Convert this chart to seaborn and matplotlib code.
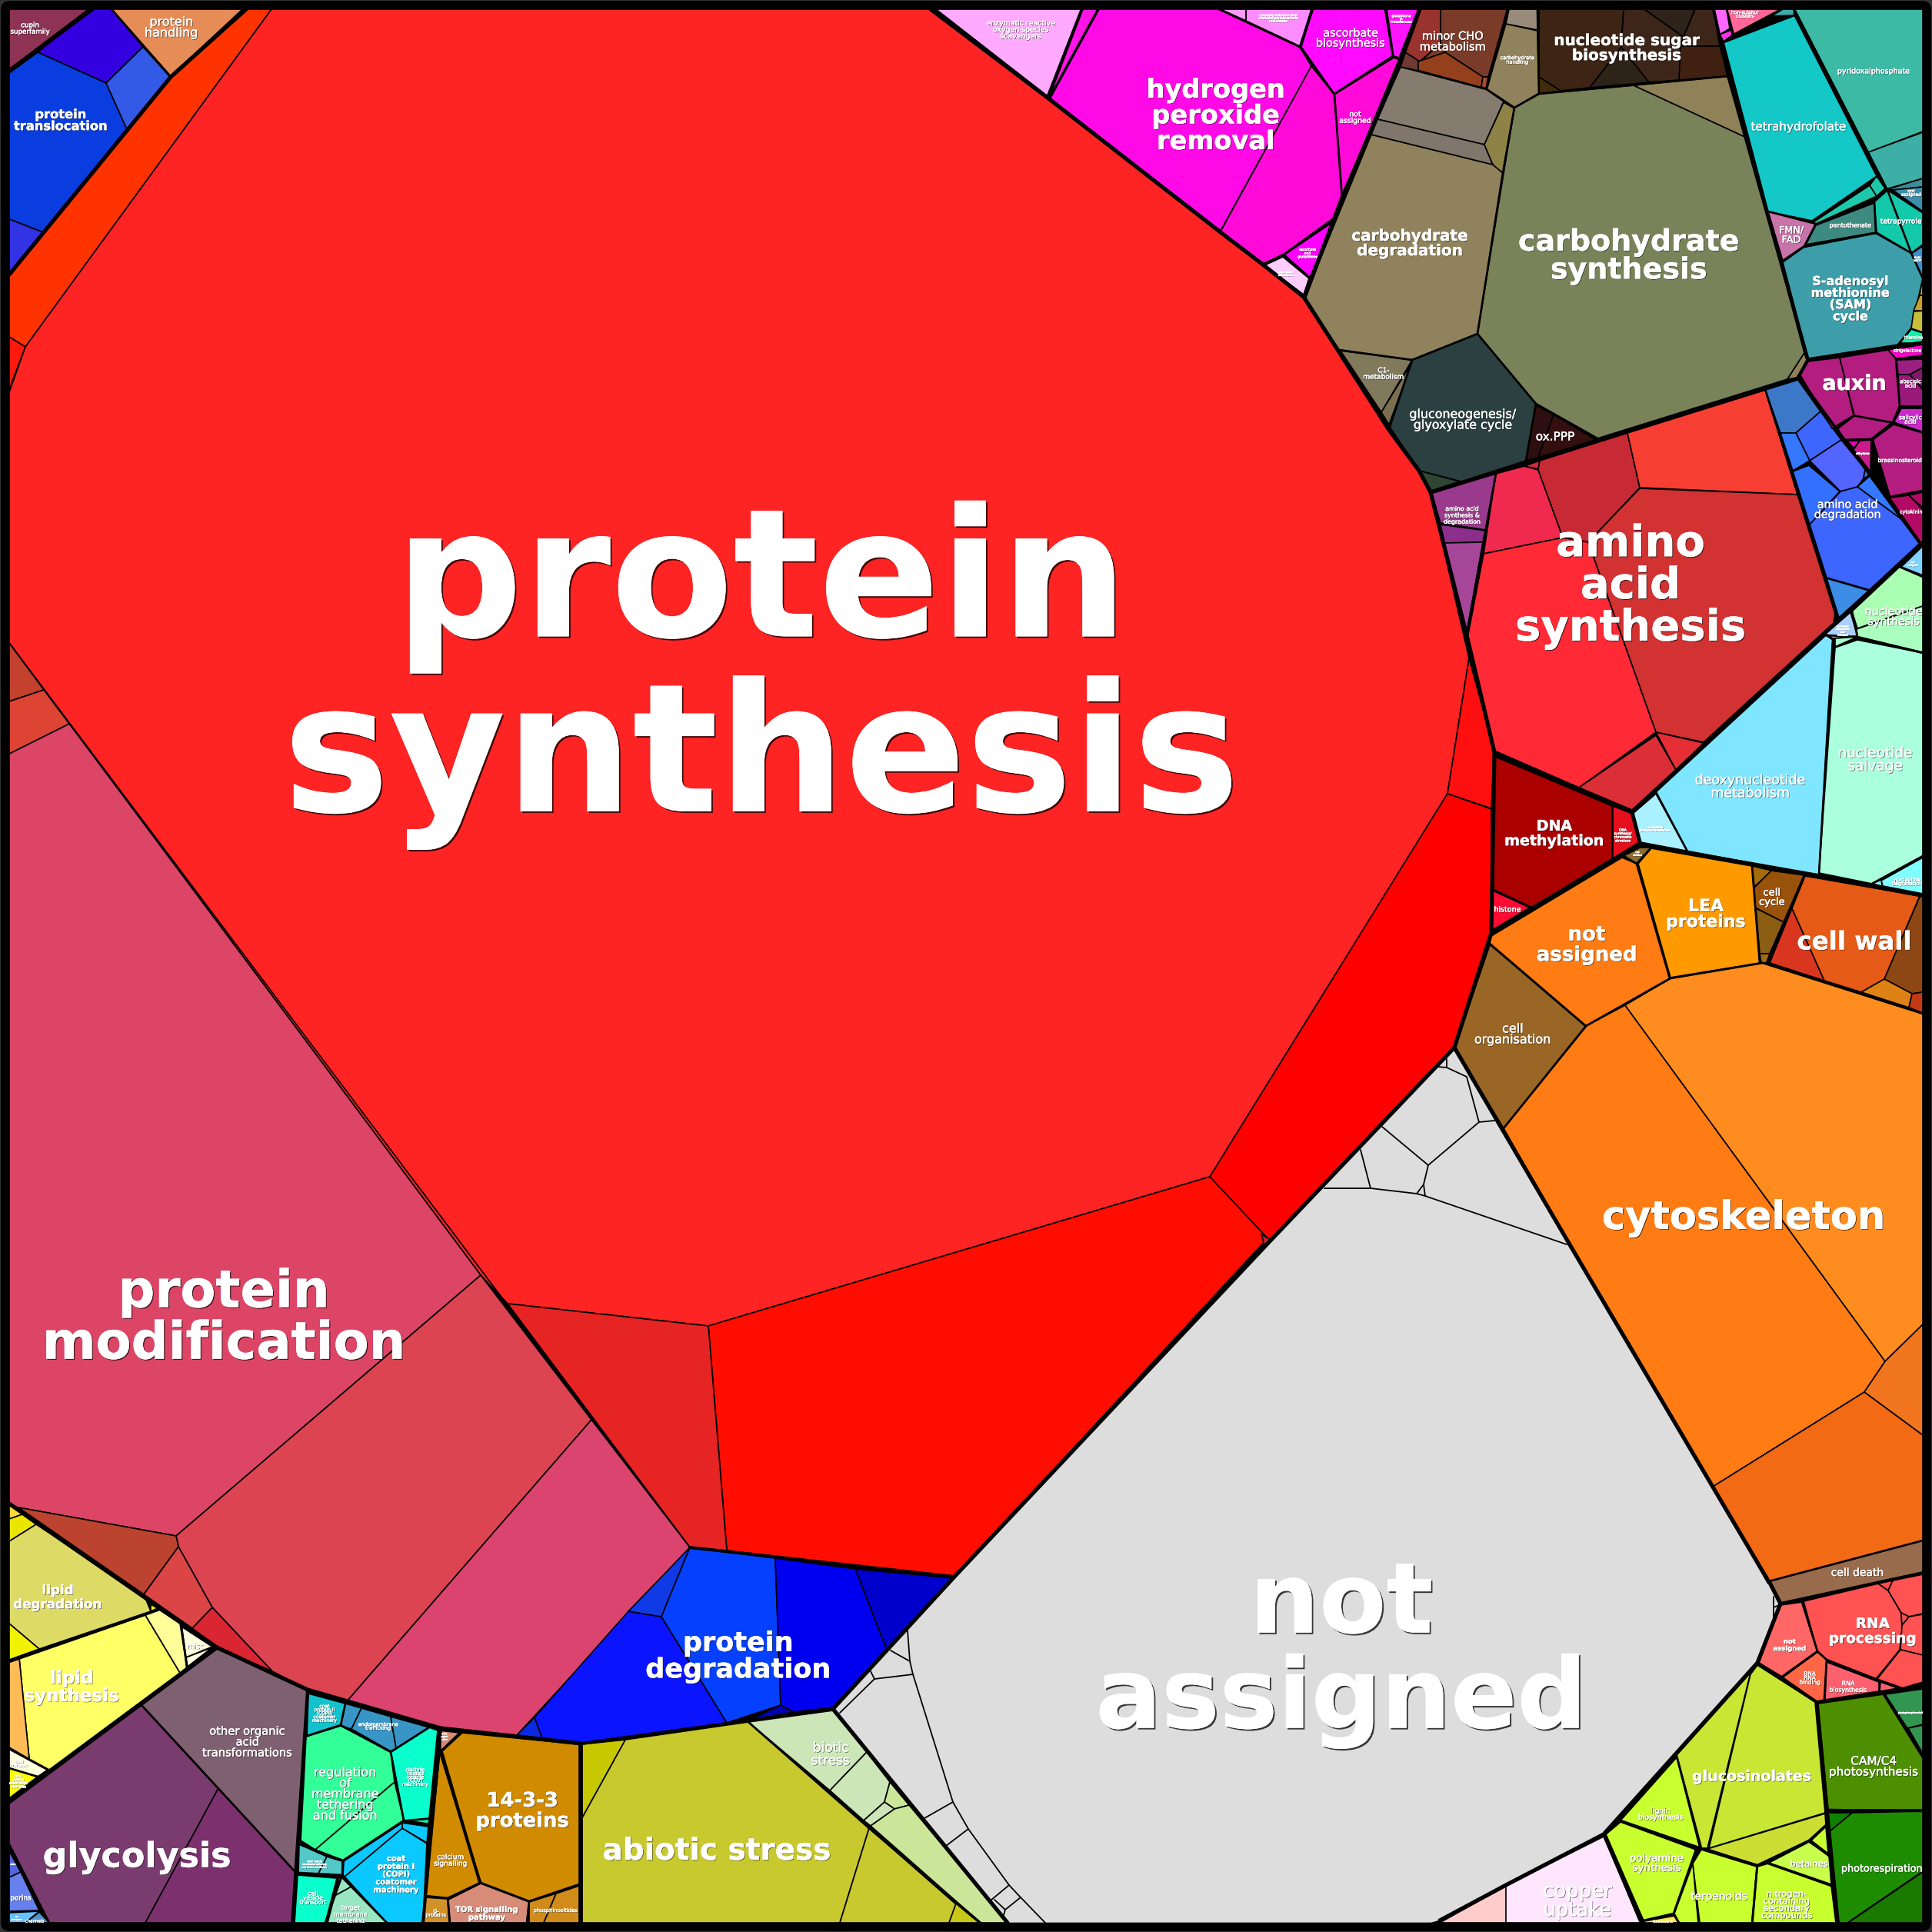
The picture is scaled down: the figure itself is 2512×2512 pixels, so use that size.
import matplotlib
matplotlib.use("Agg")
import matplotlib.pyplot as plt
import matplotlib.patheffects as pe
from matplotlib.collections import PolyCollection, LineCollection
from matplotlib.patches import Rectangle, FancyBboxPatch
import seaborn as sns

# Voronoi treemap of plant protein functions. Cell outlines, in pixels.

protein_polys = [
    [(12,12),(115,12),(12,90)],
    [(118,12),(145,12),(186,61),(138,108),(49,68)],
    [(12,95),(49,68),(138,108),(165,168),(56,302),(12,285)],
    [(186,61),(221,100),(165,168),(138,108)],
    [(12,285),(56,302),(12,357)],
    [(145,12),(316,12),(222,99)],
    [(320,12),(353,12),(33,451),(12,438),(12,358),(222,100)],
    [(12,438),(33,451),(15,498),(12,512)],
    [(353,12),(1210,12),(1362,127),(1587,302),(1642,344),(1695,386),(1806,559),(1845,612),(1860,640),(1910,856),(1882,1032),(1573,1530),(921,1724),(660,1695),(625,1658),(12,836),(12,510),(33,451)],
    [(1910,856),(1943,976),(1939,1051),(1882,1032)],
    [(1882,1032),(1939,1052),(1939,1213),(1891,1362),(1650,1615),(1573,1530)],
    [(921,1724),(1573,1530),(1648,1610),(1241,2050),(945,2016)],
    [(660,1695),(921,1724),(945,2016),(897,2012)],
    [(1640,1605),(1652,1612),(1645,1622)],
    [(12,980),(90,941),(625,1658),(229,1997),(12,1958)],
    [(12,836),(57,897),(12,912)],
    [(12,912),(57,897),(90,941),(12,980)],
    [(625,1658),(769,1846),(452,2211),(400,2197),(354,2173),(276,2090),(232,2011),(229,1997)],
    [(769,1846),(897,2012),(672,2256),(573,2247),(452,2211)],
    [(24,1960),(229,1997),(232,2011),(187,2073)],
    [(232,2011),(276,2090),(250,2117),(187,2073)],
    [(276,2090),(354,2173),(282,2142),(250,2117)],
    [(672,2256),(695,2233),(705,2260)],
    [(695,2233),(817,2095),(860,2102),(945,2240),(756,2267),(705,2260)],
    [(897,2012),(817,2095),(860,2102)],
    [(897,2012),(1008,2026),(1015,2217),(945,2240),(860,2102)],
    [(1008,2026),(1112,2040),(1153,2145),(1083,2220),(1032,2226),(1015,2217)],
    [(1112,2040),(1241,2052),(1153,2145)],
    [(1015,2217),(1032,2226),(975,2236)],
]
protein_colors = ["#8e3353","#3300e0","#0a3de0","#335ae6","#3333e6","#e68c57","#ff3300","#ff1a0d",
                  "#ff2424","#ff1010","#ff0000","#ff0d00","#e62424","#cc2233","#dc4566","#c4412e",
                  "#dd4433","#dc4452","#dc4470","#bb432f","#db4545","#d92632","#0a2ae6","#0a14ff",
                  "#0f3ae6","#0540ff","#0000f0","#0000cc","#0000b3"]

lipid_polys = [
    [(12,1957),(29,1969),(12,1975)],
    [(12,1975),(29,1969),(47,1982),(12,2004)],
    [(12,2004),(47,1982),(187,2073),(196,2095),(51,2144),(12,2111)],
    [(12,2111),(51,2144),(12,2158)],
    [(196,2086),(205,2091),(196,2095)],
    [(25,2156),(189,2100),(234,2175),(64,2301),(38,2287)],
    [(189,2100),(207,2093),(234,2111),(243,2168),(234,2175)],
    [(236,2115),(276,2141),(242,2155)],
    [(242,2155),(276,2142),(244,2167)],
    [(12,2161),(25,2156),(38,2287),(12,2272)],
    [(12,2274),(62,2301),(49,2310),(12,2299)],
    [(12,2299),(49,2310),(12,2338)],
    [(12,2343),(184,2217),(284,2325),(189,2500),(64,2500),(12,2398)],
    [(284,2325),(384,2434),(380,2500),(189,2500)],
    [(184,2217),(282,2144),(354,2175),(400,2197),(384,2434)],
    [(12,2407),(27,2434),(12,2441)],
    [(12,2441),(27,2434),(51,2484),(12,2485)],
    [(12,2487),(51,2485),(33,2500),(12,2500)],
    [(33,2500),(51,2486),(64,2500)],
]
lipid_colors = ["#ffd93a","#ebe600","#deda66","#f2f200","#f2f200","#ffff66","#ffff99","#ffffdd","#ffffdd",
                "#ffbb55","#ffffdd","#ffff00","#7a3b6e","#7c316e","#7f6070","#5566dd","#6680ee","#66c2ff","#4f94cc"]

membrane_polys = [
    [(401,2202),(449,2215),(443,2243),(399,2257)],
    [(449,2215),(470,2221),(457,2248),(443,2244)],
    [(470,2221),(508,2232),(515,2273),(508,2277),(457,2248)],
    [(508,2232),(558,2246),(515,2273)],
    [(558,2246),(569,2250),(558,2364),(525,2367),(508,2278)],
    [(525,2368),(558,2365),(557,2373)],
    [(443,2244),(508,2278),(513,2317),(410,2405),(391,2393),(398,2258)],
    [(513,2317),(525,2367),(446,2419),(410,2405)],
    [(523,2377),(555,2397),(550,2500),(503,2500),(448,2440)],
    [(523,2370),(557,2375),(555,2396),(523,2377)],
    [(447,2420),(446,2438),(448,2440),(523,2377),(523,2370)],
    [(389,2398),(425,2414),(413,2438),(388,2435)],
    [(425,2414),(445,2420),(445,2439),(413,2438)],
    [(387,2438),(438,2442),(423,2500),(383,2500)],
    [(444,2440),(457,2453),(435,2465),(441,2442)],
    [(435,2465),(457,2453),(503,2500),(426,2500)],
    [(572,2250),(598,2253),(573,2277)],
    [(572,2278),(623,2448),(582,2468),(553,2465)],
    [(601,2253),(753,2268),(753,2450),(688,2472),(625,2448),(575,2277)],
    [(553,2467),(582,2469),(584,2500),(551,2500)],
    [(583,2470),(625,2449),(688,2473),(685,2500),(585,2500)],
    [(688,2473),(723,2462),(707,2500),(688,2500)],
    [(723,2462),(753,2452),(753,2500),(707,2500)],
]
membrane_colors = ["#14c2cc","#3796c6","#3796c6","#3796c6","#0bffcc","#14e6aa","#33ff99","#33ff99",
                   "#0bc8ff","#0bc8ff","#0bc8ff","#52c8c8","#52c8c8","#0bffcc","#99e6c2","#99e6c2",
                   "#d68c73","#d18b00","#d18b00","#d19229","#d68c78","#d18b1a","#d18b1a"]

stress_polys = [
    [(973,2239),(1083,2224),(1127,2278),(1079,2328)],
    [(1127,2278),(1157,2317),(1150,2343),(1123,2367),(1079,2328)],
    [(1157,2317),(1182,2347),(1163,2352),(1150,2343)],
    [(1150,2343),(1163,2352),(1132,2374),(1123,2367)],
    [(1132,2374),(1163,2352),(1182,2347),(1310,2500),(1275,2500)],
    [(813,2262),(973,2239),(1130,2377),(1092,2500),(756,2500),(756,2365)],
    [(1130,2377),(1243,2476),(1234,2500),(1092,2500)],
    [(1243,2475),(1273,2500),(1234,2500)],
    [(756,2268),(813,2262),(756,2365)],
]
stress_colors = ["#cce6b8","#cce6b8","#cce699","#cce6b8","#cce699","#c8c82f","#c8c82f","#c8c81a","#c8c800"]

unassigned_polys = [
    [(1241,2050),(1650,1615),(1891,1362),(2042,1620),(2300,2056),(2315,2085),(2285,2162),(2085,2385),(1958,2451),(1872,2497),(1860,2500),(1310,2500),(1083,2222)],
]
unassigned_colors = ["#dddddd"]
unassigned_edges = [
    [(1722,1545),(1782,1545),(1842,1552),(1853,1555),(2037,1618)],
    [(1180,2120),(1183,2160),(1187,2177),(1239,2343),(1259,2378),(1312,2451),(1327,2467),(1359,2500)],
    [(1158,2146),(1183,2160)],
    [(1132,2173),(1137,2183),(1187,2177)],
    [(1137,2183),(1092,2227)],
    [(1239,2343),(1202,2364)],
    [(1259,2378),(1230,2400)],
    [(1312,2451),(1288,2471)],
    [(1327,2467),(1307,2483),(1293,2470)],
    [(1307,2483),(1304,2493)],
    [(1797,1465),(1857,1515),(1923,1459),(1943,1457)],
    [(1923,1459),(1907,1400),(1881,1388),(1870,1387)],
    [(1881,1388),(1881,1377)],
    [(1769,1495),(1782,1545)],
    [(1857,1515),(1851,1540),(1853,1555)],
    [(1851,1540),(1842,1552)],
    [(2306,2076),(2306,2103)],
    [(2306,2090),(2313,2087)],
    [(12,836),(897,2012)],
]

orange_polys = [
    [(2062,1334),(2113,1307),(2451,1770),(2424,1810),(2227,1933),(2042,1620),(1955,1467)],
    [(2113,1307),(2172,1272),(2292,1252),(2500,1318),(2500,1722),(2451,1770)],
    [(2451,1770),(2500,1722),(2500,1866),(2424,1810)],
    [(2227,1933),(2424,1810),(2500,1866),(2500,2003),(2299,2059)],
    [(2300,2056),(2500,2003),(2500,2045),(2315,2085)],
    [(2109,1115),(2128,1123),(2171,1272),(2062,1334),(1937,1227),(1939,1217)],
    [(1937,1228),(2062,1335),(1955,1467),(1891,1362)],
    [(2147,1103),(2278,1126),(2288,1252),(2172,1271),(2130,1123)],
    [(2111,1113),(2132,1102),(2147,1102),(2128,1123)],
    [(2278,1126),(2304,1132),(2281,1153)],
    [(2303,1132),(2346,1138),(2319,1199),(2282,1180),(2281,1154)],
    [(2283,1181),(2319,1199),(2301,1240),(2288,1240)],
    [(2288,1240),(2301,1240),(2297,1252),(2290,1252)],
    [(2330,1181),(2372,1275),(2301,1252)],
    [(2347,1139),(2496,1165),(2450,1273),(2420,1290),(2372,1275),(2330,1181)],
    [(2496,1166),(2500,1166),(2500,1290),(2486,1292),(2450,1273)],
    [(2450,1273),(2486,1292),(2482,1310),(2420,1290)],
    [(2486,1292),(2500,1290),(2500,1317),(2482,1310)],
    [(1942,983),(2096,1048),(2096,1117),(1991,1180),(1942,1157)],
    [(2097,1048),(2122,1058),(2132,1097),(2097,1117)],
    [(1941,1158),(1989,1180),(1939,1210)],
]
orange_colors = ["#ff7b14","#ff8c1f","#f2761f","#f26a14","#996b4d","#ff7b14","#996626","#ff9900","#8c6b2e",
                 "#a36b0a","#99520a","#8c5e14","#a36b14","#d93620","#e65a17","#8c4714","#de8215","#c23a14",
                 "#aa0000","#e60f1e","#ff0a32"]

amino_polys = [
    [(1861,640),(1945,616),(1932,689),(1873,680)],
    [(1873,682),(1932,690),(1928,705),(1878,706)],
    [(1878,706),(1928,705),(1907,824)],
    [(1945,616),(1982,606),(2000,611),(2032,699),(1929,720)],
    [(1982,606),(2002,599),(2000,610)],
    [(2002,599),(2116,563),(2132,634),(2065,705),(2032,699),(2000,611)],
    [(2116,563),(2295,507),(2337,643),(2132,634)],
    [(2132,635),(2337,643),(2386,798),(2384,810),(2215,965),(2153,952),(2065,705)],
    [(1929,720),(2032,699),(2065,705),(2153,952),(2053,1024),(1943,976),(1908,830)],
    [(2153,956),(2179,1001),(2122,1053),(2053,1024)],
    [(2153,952),(2215,966),(2179,1001)],
    [(2295,506),(2337,493),(2367,535),(2335,563),(2315,563)],
    [(2367,535),(2394,572),(2353,599),(2335,563)],
    [(2315,563),(2335,563),(2353,599),(2331,612)],
    [(2353,599),(2394,572),(2425,610),(2423,622),(2415,633),(2393,639)],
    [(2423,622),(2430,618),(2425,610)],
    [(2415,633),(2431,619),(2472,675)],
    [(2331,613),(2352,605),(2392,639),(2353,682)],
    [(2393,639),(2415,633),(2472,675),(2497,707),(2431,767),(2375,751),(2353,682)],
    [(2375,752),(2430,768),(2391,803)],
]
amino_colors = ["#993a8c","#8c2e8c","#a64699","#f02a4e","#d42a3c","#c82a35","#f73e33","#d23232","#ff2a36",
                "#dc2e37","#e62e37","#3d78c8","#3d66ff","#3378ff","#5266ff","#3378ff","#3378ff","#3370ff",
                "#3d66ff","#3d8ce6"]

nucleotide_polys = [
    [(2472,737),(2500,710),(2500,748)],
    [(2408,795),(2470,737),(2500,750),(2500,788),(2415,817)],
    [(2414,818),(2500,788),(2500,848),(2415,828)],
    [(2374,824),(2406,796),(2415,827),(2383,830)],
    [(2374,826),(2383,832),(2365,1137),(2194,1107),(2153,1030)],
    [(2153,1032),(2194,1107),(2134,1096),(2124,1057)],
    [(2386,842),(2415,832),(2500,849),(2500,1113),(2434,1149),(2365,1135)],
    [(2386,830),(2415,828),(2386,841)],
    [(2446,1145),(2500,1115),(2500,1162),(2448,1152)],
    [(2434,1149),(2446,1144),(2447,1152)],
]
nucleotide_colors = ["#80d4ff","#aaffb3","#aaffbe","#aad0ff","#80e6ff","#aaf0ff","#aaffdc","#aaffcc","#80ffff","#80ffff"]

carb_polys = [
    [(1969,140),(2001,122),(2124,111),(2271,179),(2346,459),(2324,493),(2077,570),(1997,525),(1921,434)],
    [(2124,111),(2247,99),(2271,179)],
    [(2346,459),(2349,468),(2337,491),(2324,493)],
    [(1783,175),(1941,214),(1954,225),(1921,434),(1836,468),(1741,455),(1696,387)],
    [(1821,87),(1932,116),(1955,132),(1930,188),(1791,155)],
    [(1791,155),(1930,188),(1941,214),(1783,175)],
    [(1955,133),(1969,141),(1954,225),(1941,214),(1930,188)],
    [(1958,31),(1999,40),(2001,121),(1969,140),(1933,116)],
    [(1962,12),(1999,12),(1999,39),(1958,31)],
    [(1873,12),(1960,12),(1935,100),(1928,100),(1879,68),(1873,57)],
    [(1846,12),(1873,12),(1873,57),(1846,80),(1827,68)],
    [(1827,68),(1846,80),(1844,92),(1821,87)],
    [(1846,80),(1873,57),(1879,68),(1844,80)],
    [(1844,80),(1879,68),(1928,100),(1926,114),(1844,92)],
    [(1928,100),(1935,100),(1932,115),(1926,113)],
    [(2001,12),(2111,12),(2108,61),(2067,114),(2029,118),(2001,100)],
    [(2001,100),(2029,118),(2001,122)],
    [(2108,61),(2067,114),(2144,107)],
    [(2111,12),(2138,12),(2189,48),(2183,104),(2144,107),(2108,61)],
    [(2138,12),(2204,12),(2189,48)],
    [(2204,12),(2228,12),(2236,60),(2185,60),(2189,48)],
    [(2185,60),(2236,60),(2247,99),(2183,104)],
    [(1921,434),(1997,525),(1984,599),(1900,626),(1845,612),(1807,555),(1836,468)],
    [(1845,612),(1898,626),(1861,638)],
    [(1743,456),(1836,468),(1796,536)],
    [(1836,471),(1806,552),(1796,536)],
    [(1997,527),(2020,539),(2000,595),(1984,599)],
    [(2020,539),(2075,572),(2000,595)],
]
carb_colors = ["#7a825a","#8f8259","#8f8259","#8f825c","#857b6f","#80766c","#8f8247","#8f825c","#998b7a",
               "#7a3b29","#99332d","#6e3a33","#7a3b29","#94401c","#a34d2e","#3d2414","#402c0a","#2e2319",
               "#3d2619","#2e2319","#3d2619","#402010","#2b4040","#2e4633","#80795c","#7a7050","#2e0f0f","#330f0f"]

peroxide_polys = [
    [(1217,12),(1406,12),(1362,125)],
    [(1408,12),(1427,12),(1364,127)],
    [(1429,12),(1585,12),(1690,61),(1705,86),(1587,300),(1365,129)],
    [(1705,86),(1735,123),(1745,258),(1734,284),(1669,331),(1643,343),(1587,301)],
    [(1707,12),(1801,12),(1811,73),(1735,122),(1692,61)],
    [(1812,75),(1819,77),(1745,255),(1735,123)],
    [(1803,12),(1844,12),(1819,75),(1812,73)],
    [(1620,12),(1705,12),(1690,60),(1620,27)],
    [(1587,12),(1620,12),(1620,27)],
    [(1734,288),(1703,361),(1669,332)],
    [(1644,345),(1668,334),(1702,362),(1695,383)],
]
peroxide_colors = ["#ffaaff","#ff14e6","#ff0ae6","#ff0ad9","#ff0aff","#ff0ad9","#ff14ff","#ff8cff","#ff99ff","#ff00ff","#ffccff"]

cofactor_polys = [
    [(2228,12),(2245,12),(2249,37),(2236,45)],
    [(2236,45),(2251,39),(2252,46),(2241,54)],
    [(2245,12),(2316,12),(2254,45)],
    [(2303,21),(2318,12),(2332,12),(2333,20)],
    [(2241,55),(2333,20),(2440,229),(2356,287),(2299,275)],
    [(2356,290),(2431,241),(2440,255),(2361,291)],
    [(2440,229),(2451,245),(2440,255),(2431,241)],
    [(2333,12),(2500,12),(2500,171),(2429,198)],
    [(2429,198),(2500,172),(2500,232),(2452,246)],
    [(2455,246),(2500,232),(2500,243),(2461,247)],
    [(2461,247),(2500,243),(2500,275)],
    [(2454,247),(2500,277),(2500,318),(2485,329),(2440,302),(2437,262)],
    [(2437,264),(2439,302),(2348,318),(2361,293)],
    [(2299,275),(2361,291),(2346,320),(2318,339)],
    [(2318,341),(2346,321),(2439,303),(2485,329),(2500,362),(2485,427),(2468,448),(2351,466)],
    [(2485,330),(2500,320),(2500,361)],
    [(2498,372),(2500,368),(2500,384),(2496,384)],
    [(2496,384),(2500,384),(2500,404),(2488,404)],
    [(2488,405),(2500,404),(2500,432),(2485,427)],
    [(2485,428),(2500,433),(2500,446),(2470,446)],
]
cofactor_colors = ["#ff66ff","#ff33e6","#ff6699","#3daaaa","#14c8c8","#1ec8aa","#1ec8aa","#3dbaa6","#3dafa6",
                   "#3d8e99","#3d8eaa","#14c8aa","#3d8b80","#c873aa","#3d9eaa","#3d8fcc","#c8b43c","#c8a02e",
                   "#c8be3c","#14f0aa"]

hormone_polys = [
    [(2455,455),(2500,448),(2500,462),(2465,466)],
    [(2341,488),(2350,470),(2392,465),(2410,540),(2382,557)],
    [(2392,465),(2455,455),(2465,467),(2470,528),(2461,549),(2411,540)],
    [(2411,541),(2460,550),(2433,571),(2395,572),(2390,557)],
    [(2466,468),(2500,467),(2500,478),(2483,487),(2468,487)],
    [(2468,487),(2483,487),(2500,507),(2500,528),(2470,528)],
    [(2483,487),(2500,478),(2500,505)],
    [(2472,531),(2500,531),(2500,562),(2462,550)],
    [(2435,572),(2457,646),(2500,638),(2500,563),(2462,552)],
    [(2457,647),(2482,644),(2500,663),(2500,705),(2497,705)],
    [(2482,644),(2500,640),(2500,660)],
    [(2418,573),(2433,572),(2432,613),(2410,585)],
    [(2402,573),(2418,573),(2410,583)],
]
hormone_colors = ["#ff00cc","#b31d80","#b31d80","#b31d80","#992080","#991a7a","#801a66","#cc29cc","#b31d80",
                  "#b30a66","#b30a66","#cc1a8c","#e600b3"]

rna_polys = [
    [(2315,2087),(2343,2083),(2363,2147),(2317,2180),(2287,2162)],
    [(2345,2082),(2442,2059),(2455,2068),(2472,2097),(2473,2120),(2470,2145),(2439,2183),(2375,2158),(2363,2147)],
    [(2442,2059),(2461,2055),(2455,2068)],
    [(2461,2055),(2500,2047),(2500,2098),(2482,2102),(2472,2097),(2455,2068)],
    [(2482,2102),(2500,2099),(2500,2152),(2471,2145),(2473,2113)],
    [(2472,2097),(2482,2102),(2473,2113)],
    [(2471,2145),(2500,2152),(2500,2187),(2473,2195),(2440,2184)],
    [(2363,2148),(2375,2158),(2372,2210),(2362,2212),(2318,2181)],
    [(2375,2161),(2443,2187),(2443,2199),(2373,2210)],
    [(2445,2187),(2468,2195),(2444,2199)],
]
rna_colors = ["#ff6666","#ff5252","#ff4d4d","#ff5252","#ff5252","#ff5252","#ff5252","#ff6645","#ff6070","#ff6070"]

green_polys = [
    [(2364,2215),(2449,2203),(2500,2285),(2500,2353),(2377,2353)],
    [(2451,2203),(2500,2196),(2500,2242),(2480,2247)],
    [(2481,2247),(2500,2243),(2500,2280)],
    [(2408,2357),(2500,2355),(2500,2433),(2402,2500),(2388,2500),(2379,2381)],
    [(2377,2357),(2408,2357),(2379,2381)],
    [(2500,2434),(2500,2500),(2403,2500)],
    [(2276,2175),(2220,2403),(2212,2403),(2180,2282)],
    [(2285,2165),(2360,2213),(2373,2357),(2222,2403),(2276,2177)],
    [(2373,2358),(2374,2373),(2352,2393),(2285,2425),(2220,2404)],
    [(2180,2285),(2210,2403),(2107,2367)],
    [(2088,2385),(2107,2369),(2205,2405),(2176,2488),(2137,2497)],
    [(2212,2405),(2284,2427),(2278,2500),(2210,2500),(2201,2423)],
    [(2201,2423),(2208,2500),(2183,2500),(2177,2488)],
    [(2285,2427),(2299,2423),(2381,2452),(2387,2500),(2279,2500)],
    [(2300,2422),(2352,2395),(2378,2413),(2381,2450)],
    [(2355,2393),(2374,2375),(2377,2410)],
    [(2138,2498),(2177,2491),(2182,2500),(2138,2500)],
    [(2085,2388),(2133,2500),(1955,2500),(1955,2453)],
    [(1872,2500),(1958,2452),(1958,2500)],
]
green_colors = ["#4d8f00","#339650","#339650","#1e8c00","#0f8000","#1a7a00","#c8e633","#c8e633","#ccde33",
                "#c8ff2e","#c8ff2e","#c8ff2e","#c8ff2e","#c8ff2e","#c8ff4d","#c8ff33","#ffe64d","#ffe6ff","#ffcccc"]

# borders between the top level groups
heavy_lines = [
    [(120,12),(12,92)],
    [(320,12),(222,100),(12,357)],
    [(1210,12),(1362,127),(1587,302),(1642,344),(1695,386),(1806,559),(1845,612),(1860,640),(1908,830),(1943,978),(1939,1213),(1891,1362),(1650,1615),(1241,2050)],
    [(1696,387),(1745,257),(1819,86),(1846,12)],
    [(1861,640),(2338,492)],
    [(1891,1362),(2042,1620),(2300,2057)],
    [(2300,2056),(2315,2085),(2285,2162),(2085,2385),(1958,2451),(1872,2497)],
    [(1241,2050),(1083,2222)],
    [(756,2267),(573,2247),(400,2197),(282,2142),(12,1955)],
    [(1083,2222),(1310,2500)],
    [(12,2343),(282,2142)],
]
strong_lines = [
    [(1241,2050),(897,2012)],
    [(2228,12),(2247,99),(2351,468),(2338,490),(2497,707),(2122,1055),(1943,978)],
    [(2351,468),(2500,445)],
    [(2122,1058),(2132,1096),(2500,1165)],
    [(2132,1096),(1939,1213)],
    [(1083,2222),(756,2267)],
    [(756,2267),(756,2500)],
    [(2315,2085),(2500,2045)],
    [(2285,2162),(2362,2213),(2390,2500)],
    [(573,2250),(550,2500)],
    [(400,2197),(380,2500)],
]
# borders inside the groups
mid_lines = [
    [(145,12),(222,100),(316,12)],
    [(1362,125),(1406,12)],
    [(1585,12),(1690,61),(1735,123),(1745,258)],
    [(1690,61),(1707,12)],
    [(1735,122),(1811,73),(1801,12)],
    [(1811,73),(1819,77)],
    [(1734,284),(1669,331),(1643,343)],
    [(1669,331),(1703,361)],
    [(1741,455),(1836,468),(1921,434),(1954,225),(1969,140),(2001,122),(2247,99)],
    [(1969,140),(1933,116),(1844,92)],
    [(1960,12),(1933,116)],
    [(1999,12),(2001,122)],
    [(1921,434),(1997,525),(2077,570)],
    [(1997,525),(1984,599)],
    [(1836,468),(1807,555)],
    [(2241,55),(2333,20)],
    [(2333,12),(2454,247),(2485,329),(2500,362)],
    [(2299,275),(2361,291),(2346,320),(2318,339)],
    [(2346,321),(2439,303),(2437,262),(2454,247)],
    [(2439,303),(2485,329)],
    [(2485,427),(2468,448)],
    [(2245,12),(2254,45),(2316,12)],
    [(2241,55),(2254,45)],
    [(2465,467),(2470,528),(2461,549),(2433,571),(2395,572)],
    [(2500,528),(2470,528)],
    [(2435,572),(2457,646),(2500,638)],
    [(2461,549),(2500,562)],
    [(1945,616),(1907,824)],
    [(2295,506),(2390,803)],
    [(2408,795),(2415,828),(2374,826)],
    [(2415,828),(2500,849)],
    [(2470,737),(2500,750)],
    [(2383,832),(2365,1137)],
    [(2153,1030),(2194,1107)],
    [(2434,1149),(2500,1113)],
    [(2096,1048),(2096,1117)],
    [(1942,1157),(1991,1180)],
    [(2111,1113),(2128,1123),(2171,1272)],
    [(2128,1123),(2147,1102)],
    [(2278,1126),(2288,1252)],
    [(2346,1138),(2297,1252)],
    [(2062,1334),(1937,1227),(1891,1362)],
    [(2500,1318),(2292,1252),(2172,1272),(2062,1334),(1955,1467)],
    [(2300,2056),(2500,2003)],
    [(2343,2083),(2363,2147),(2317,2180)],
    [(2363,2147),(2375,2158),(2372,2210)],
    [(2375,2158),(2439,2183),(2473,2195)],
    [(2362,2213),(2500,2195)],
    [(2377,2353),(2500,2355)],
    [(2449,2203),(2500,2285)],
    [(2180,2283),(2212,2403),(2285,2425),(2352,2393),(2374,2373)],
    [(2107,2367),(2212,2403)],
    [(2352,2393),(2378,2413)],
    [(2299,2423),(2381,2452)],
    [(2285,2425),(2278,2500)],
    [(2205,2405),(2176,2488),(2137,2497)],
    [(2176,2488),(2183,2500)],
    [(2085,2385),(2133,2500)],
    [(572,2278),(625,2448),(582,2468),(553,2465)],
    [(625,2448),(688,2472),(753,2450)],
    [(582,2468),(585,2500)],
    [(688,2472),(685,2500)],
    [(598,2253),(573,2277)],
    [(399,2257),(443,2243),(508,2278),(558,2246)],
    [(449,2215),(443,2243)],
    [(508,2278),(525,2367),(446,2419),(389,2398)],
    [(446,2419),(445,2438),(388,2435)],
    [(525,2367),(558,2372)],
    [(445,2438),(423,2500)],
    [(444,2440),(503,2500)],
    [(12,2161),(207,2093)],
    [(236,2115),(243,2168)],
    [(12,2274),(62,2301)],
    [(12,2299),(49,2310)],
    [(184,2217),(384,2434)],
    [(12,2398),(64,2500)],
    [(973,2239),(1130,2377),(1275,2500)],
]

# label text, centre x, centre y, font size in pixels
bold_labels = [
    ("protein\nsynthesis",990,878,232), ("not\nassigned",1744,2150,127), ("protein\nmodification",291,1714,67),
    ("cytoskeleton",2267,1584,51), ("carbohydrate\nsynthesis",2118,334,38), ("amino\nacid\nsynthesis",2120,763,56),
    ("hydrogen\nperoxide\nremoval",1581,151,33.6), ("glycolysis",178,2415,44.4), ("abiotic stress",932,2407,39),
    ("protein\ndegradation",960,2154,35), ("cell wall",2411,1226,32.5), ("auxin",2411,500,27),
    ("not\nassigned",2063,1229,26), ("LEA\nproteins",2218,1189,22), ("14-3-3\nproteins",679,2355,25.8),
    ("lipid\nsynthesis",93,2194,23), ("lipid\ndegradation",75,2077,16.7), ("nucleotide sugar\nbiosynthesis",2115,63,20),
    ("carbohydrate\ndegradation",1833,317,20), ("protein\ntranslocation",79,157,16.3), ("RNA\nprocessing",2435,2121,18.6),
    ("glucosinolates",2278,2310,19), ("DNA\nmethylation",2021,1084,19), ("S-adenosyl\nmethionine\n(SAM)\ncycle",2406,389,16),
    ("not\nassigned",2327,2139,8.5), ("coat\nprotein I\n(COPI)\ncoatomer\nmachinery",515,2437,10), ("TOR signalling\npathway",633,2488,10),
]
regular_labels = [
    ("protein\nhandling",223,36,16), ("cupin\nsuperfamily",39,37,8.7), ("cell\norganisation",1967,1345,16),
    ("cell\ncycle",2304,1167,13), ("histone",1960,1183,9.5), ("deoxynucleotide\nmetabolism",2276,1023,17.4),
    ("nucleotide\nsalvage",2438,988,18.5), ("nucleotide\nsynthesis",2462,802,14.3), ("amino acid\ndegradation",2402,663,14.3),
    ("amino acid\nsynthesis &\ndegradation",1901,670,7.9), ("gluconeogenesis/\nglyoxylate cycle",1902,546,15.9),
    ("ox.PPP",2022,568,15.3), ("C1-\nmetabolism",1799,486,9), ("carbohydrate\nhandling",1973,78,6.6),
    ("minor CHO\nmetabolism",1889,54,14.6), ("ascorbate\nbiosynthesis",1756,50,14.4),
    ("enzymatic reactive\noxygen species\nscavengers",1327,39,9.4), ("not\nassigned",1762,153,9.3),
    ("tetrahydrofolate",2339,165,15.2), ("pyridoxalphosphate",2436,93,9.5), ("FMN/\nFAD",2329,306,12.7),
    ("pantothenate",2406,293,8), ("tetrapyrrole",2472,288,9), ("iron-sulphur\nclusters",2269,19,6),
    ("thiamine",2488,439,5.5), ("strigolactone",2480,456,5.5), ("abscisic\nacid",2484,499,7),
    ("salicylic\nacid",2484,546,7.5), ("brassinosteroid",2470,599,7.5), ("cytokinin",2485,666,6.5),
    ("ethylene",2422,590,4), ("not\nassigned",2487,733,3), ("not\nassigned",2485,251,5.8),
    ("NAD/\nNADP",2493,337,3.5), ("ascorbate\nand\nglutathione",1700,329,4.5), ("superoxide\ndismutases",1672,356,3.5),
    ("cytosolic/mitochondrial\nmonodehydroascorbate\nreductases",1662,24,4.3), ("glutathione\n&\ntransferases",1822,25,4.4),
    ("nucleotide\nmetabolism\nand\ntransport",2396,820,3), ("nucleotide\nphosphotransferase",2152,1078,4),
    ("nucleotide\ndegradation",2480,1147,6.5), ("DNA\nsynthesis/\nchromatin\nstructure",2110,1086,4.5),
    ("cell\ndivision",2129,1110,3), ("cell death",2415,2045,13.9), ("RNA\nRNA\nbinding",2353,2182,7.3),
    ("RNA\nbiosynthesis",2403,2193,7.8), ("CAM/C4\nphotosynthesis",2436,2297,15.3), ("photophosphorylation",2485,2227,3.3),
    ("photorespiration",2447,2430,12.8), ("betaines",2352,2424,11.4),
    ("nitrogen-\ncontaining\nsecondary\ncompounds",2323,2477,11.5), ("terpenoids",2235,2466,13.8),
    ("polyamine\nsynthesis",2154,2423,13.4), ("lignin\nbiosynthesis",2159,2359,9.4), ("copper\nuptake",2051,2472,26),
    ("flavonoids",2162,2499,5), ("biotic\nstress",1080,2281,17), ("other organic\nacid\ntransformations",322,2265,14.7),
    ("misc",254,2141,9.4), ("lipid\ntransport",25,2293,4.8), ("lipid\nbodies\nassociated\nactivities",24,2316,4.5),
    ("porins",27,2468,8.8), ("channels",45,2498,5.5), ("aa\ntransport",22,2494,3), ("misc",17,2424,3),
    ("coat\nprotein II\n(COPII)\ncoatomer\nmachinery",422,2228,6), ("endomembrane\ntrafficking",492,2245,6.5),
    ("clathrin\ncoated\nvesicle\n(CCV)\nmachinery",540,2311,6.5),
    ("regulation\nof\nmembrane\ntethering\nand fusion",449,2333,16), ("cell\nvesicle\ntransport",407,2468,7.5),
    ("target\nmembrane\ntethering",456,2489,8), ("other vesicle\nmembrane tethering\nand fusion machinery",409,2424,3),
    ("calcium\nsignalling",586,2419,9), ("G-\nproteins",567,2488,6.5), ("phosphinositides",722,2484,6.8),
    ("misc\nsignal\nother",578,2258,3),
]

sns.set_theme(style="white")
plt.rcParams["font.family"] = ["DejaVu Sans"]

DPI = 100
fig, ax = plt.subplots(figsize=(25.12, 25.12), dpi=DPI)
fig.subplots_adjust(0, 0, 1, 1)
fig.patch.set_facecolor("#333333")
ax.set_xlim(0, 2512)
ax.set_ylim(2512, 0)
ax.set_axis_off()
sns.despine(ax=ax, left=True, bottom=True)

px = 72 / DPI  # one pixel in points
ax.add_patch(FancyBboxPatch((8, 8), 2496, 2496, boxstyle="round,pad=7,rounding_size=12", fc="black", ec="none"))
frame = Rectangle((12, 12), 2488, 2488, transform=ax.transData, fc="none", ec="none")
ax.add_patch(frame)

all_groups = [
    (unassigned_polys, unassigned_colors), (protein_polys, protein_colors), (lipid_polys, lipid_colors),
    (membrane_polys, membrane_colors), (stress_polys, stress_colors), (orange_polys, orange_colors),
    (amino_polys, amino_colors), (nucleotide_polys, nucleotide_colors), (carb_polys, carb_colors),
    (peroxide_polys, peroxide_colors), (cofactor_polys, cofactor_colors), (hormone_polys, hormone_colors),
    (rna_polys, rna_colors), (green_polys, green_colors),
]
for polys, colors in all_groups:
    coll = PolyCollection(polys, facecolors=colors, edgecolors="black", linewidths=1.7 * px, joinstyle="round")
    coll.set_clip_path(frame)
    ax.add_collection(coll)

for lines, width in [(unassigned_edges, 1.8), (mid_lines, 2.7), (strong_lines, 4), (heavy_lines, 5.2)]:
    coll = LineCollection(lines, colors="black", linewidths=width * px, capstyle="round", joinstyle="round")
    coll.set_clip_path(frame)
    ax.add_collection(coll)

def put_label(text, x, y, size, weight, spacing):
    shift = min(max(size * 0.02, 0.8), 2.2) * px
    t = ax.text(x, y, text, ha="center", va="center", multialignment="center", color="white",
                fontsize=size * px, fontweight=weight, linespacing=spacing, clip_on=True)
    t.set_clip_path(frame)
    t.set_path_effects([
        pe.SimplePatchShadow(offset=(shift, -shift), shadow_rgbFace="black", alpha=0.75),
        pe.Stroke(linewidth=0.45 * px, foreground="white"),
        pe.Normal(),
    ])

for text, x, y, size in bold_labels:
    put_label(text, x, y, size, "bold", 1.02)
for text, x, y, size in regular_labels:
    put_label(text, x, y, size, "normal", 0.92)

fig.savefig("out.png", dpi=DPI, facecolor=fig.get_facecolor())
